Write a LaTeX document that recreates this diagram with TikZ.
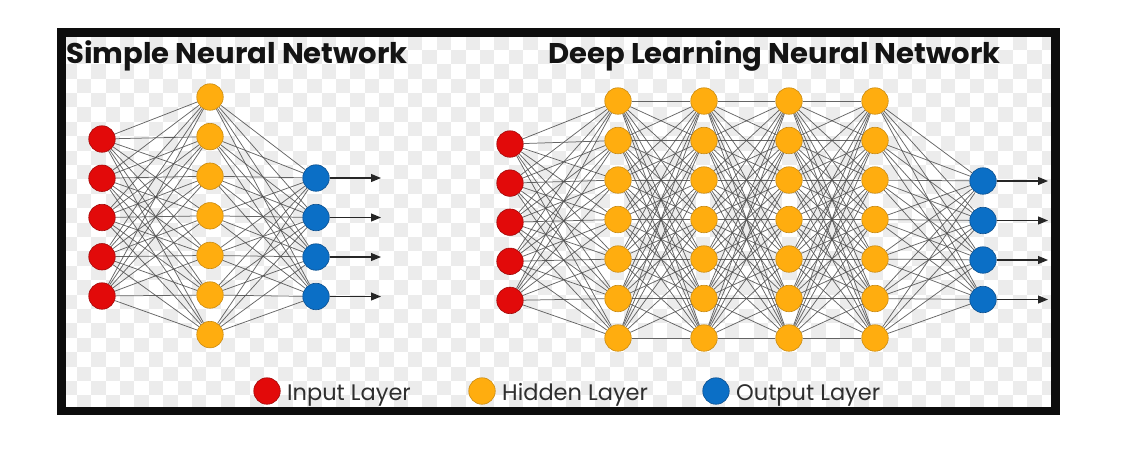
\documentclass[tikz,border=0pt]{standalone}
\usepackage{fontspec}
\setmainfont{Poppins}
\usetikzlibrary{arrows.meta}
\pgfdeclarelayer{bg}
\pgfsetlayers{bg,main}
\definecolor{inred}{HTML}{E20A0A}
\definecolor{inredd}{HTML}{A00808}
\definecolor{hidor}{HTML}{FFAD0F}
\definecolor{hidord}{HTML}{C98A10}
\definecolor{outbl}{HTML}{0B6FC6}
\definecolor{outbld}{HTML}{0A4E8E}
\definecolor{checker}{HTML}{ECECEC}
\begin{document}
\begin{tikzpicture}[x=1pt,y=-1pt,
 neuron/.style={circle,minimum size=26.5pt,inner sep=0pt,line width=0.6pt},
 innode/.style={neuron,fill=inred,draw=inredd},
 hidnode/.style={neuron,fill=hidor,draw=hidord},
 outnode/.style={neuron,fill=outbl,draw=outbld},
 link/.style={draw=black!70,line width=0.75pt,opacity=0.85},
 outarrow/.style={draw=black!85,line width=1.1pt,-{Triangle[length=10pt,width=8pt]}},
 title/.style={anchor=base west,inner sep=0pt,font=\bfseries\fontsize{28.5}{30}\selectfont,text=black!92},
 legtext/.style={anchor=base west,inner sep=0pt,font=\fontsize{22.5}{24}\selectfont,text=black!82},
 frame/.style={draw=black!95,line width=8.5pt}]
\useasboundingbox (0,0) rectangle (1148,456);
\begin{pgfonlayer}{bg}
\fill[white] (0,0) rectangle (1148,456);
\begin{scope}
\clip (65,37) rectangle (1051,407);
\foreach \i in {0,...,70}{
  \foreach \j in {0,...,26}{
    \pgfmathtruncatemacro\sumij{\i+\j}
    \ifodd\sumij\else
      \fill[checker] (62.4+14.4*\i,35.4+14.4*\j) rectangle ++(14.4,14.4);
    \fi
  }
}
\end{scope}
\end{pgfonlayer}

% titles
\node[title] (t1) at (66,63) {\scalebox{1.02}[1]{Simple Neural Network}};
\node[title] (t2) at (548,63) {\scalebox{1.02}[1]{Deep Learning Neural Network}};

% simple network
\foreach \k in {1,...,5} \node[innode] (s-i-\k) at (102,{139+39.25*(\k-1)}) {};
\foreach \k in {1,...,7} \node[hidnode] (s-h-\k) at (210,{97+39.6*(\k-1)}) {};
\foreach \k in {1,...,4} \node[outnode] (s-o-\k) at (316,{178+39.5*(\k-1)}) {};
\foreach \k in {1,...,4} \coordinate (s-e-\k) at (381,{178+39.5*(\k-1)});

% deep network
\foreach \k in {1,...,5} \node[innode] (d-i-\k) at (510,{144+39.1*(\k-1)}) {};
\foreach \c/\x in {1/618,2/704,3/789,4/875}
  \foreach \k in {1,...,7} \node[hidnode] (d-h\c-\k) at (\x,{101+39.5*(\k-1)}) {};
\foreach \k in {1,...,4} \node[outnode] (d-o-\k) at (983,{181+39.5*(\k-1)}) {};
\foreach \k in {1,...,4} \coordinate (d-e-\k) at (1048,{181+39.5*(\k-1)});

% links
\begin{pgfonlayer}{bg}
\foreach \a in {1,...,5}\foreach \b in {1,...,7} \draw[link] (s-i-\a) -- (s-h-\b);
\foreach \a in {1,...,7}\foreach \b in {1,...,4} \draw[link] (s-h-\a) -- (s-o-\b);
\foreach \a in {1,...,5}\foreach \b in {1,...,7} \draw[link] (d-i-\a) -- (d-h1-\b);
\foreach \c/\n in {1/2,2/3,3/4}
  \foreach \a in {1,...,7}\foreach \b in {1,...,7} \draw[link] (d-h\c-\a) -- (d-h\n-\b);
\foreach \a in {1,...,7}\foreach \b in {1,...,4} \draw[link] (d-h4-\a) -- (d-o-\b);
\end{pgfonlayer}

\foreach \k in {1,...,4} \draw[outarrow] (s-o-\k) -- (s-e-\k);
\foreach \k in {1,...,4} \draw[outarrow] (d-o-\k) -- (d-e-\k);

% legend
\node[innode] (l-in) at (267,391) {};
\node[legtext] (l-in-t) at (287,400) {Input Layer};
\node[hidnode] (l-hid) at (482,391) {};
\node[legtext] (l-hid-t) at (502,400) {Hidden Layer};
\node[outnode] (l-out) at (716,391) {};
\node[legtext] (l-out-t) at (736,400) {Output Layer};

% frame
\draw[frame] (61.25,32.5) rectangle (1055.5,411);
\end{tikzpicture}
\end{document}
